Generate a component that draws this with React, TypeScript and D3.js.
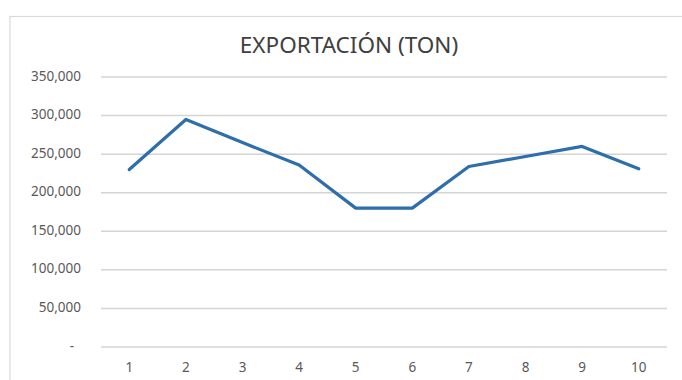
import React from "react";
import * as d3 from "d3";

const categories: string[] = ["1", "2", "3", "4", "5", "6", "7", "8", "9", "10"];
const exportTon: number[] = [230000, 295000, 265000, 236000, 180000, 180000, 234000, 247000, 260000, 231000];
const yTicks: number[] = [0, 50000, 100000, 150000, 200000, 250000, 300000, 350000];
const title = "EXPORTACIÓN (TON)";

const W = 682;
const H = 380;
const plot = { left: 101, right: 667, top: 77, bottom: 347 };
const FONT = "'Noto Sans', 'Open Sans', sans-serif";

export default function App() {
  const x = d3
    .scaleBand<string>()
    .domain(categories)
    .range([plot.left, plot.right])
    .paddingInner(0)
    .paddingOuter(0);
  const y = d3.scaleLinear().domain([0, 350000]).range([plot.bottom, plot.top]);

  const fmt = (v: number) => (v === 0 ? "-" : d3.format(",")(v));

  const line = d3
    .line<number>()
    .x((_, i) => (x(categories[i]) as number) + x.bandwidth() / 2)
    .y((d) => y(d));

  return (
    <div style={{ position: "fixed", left: 0, top: 0 }}>
      <svg width={W} height={H} style={{ display: "block", background: "#fff" }}>
        {/* chart area frame */}
        <rect x={10} y={16.5} width={700} height={400} fill="#fff" stroke="#d9d9d9" strokeWidth={1.2} />

        <text
          x={349}
          y={53}
          textAnchor="middle"
          fontFamily={FONT}
          fontSize={22.5}
          fill="#404040"
        >
          {title}
        </text>

        {yTicks.map((t) => (
          <g key={t}>
            <line
              x1={plot.left}
              x2={plot.right}
              y1={y(t)}
              y2={y(t)}
              stroke="#d4d4d4"
              strokeWidth={1.5}
            />
            <text
              x={t === 0 ? 74 : 81}
              y={y(t)}
              textAnchor="end"
              dominantBaseline="middle"
              fontFamily={FONT}
              fontSize={13.5}
              fill="#595959"
            >
              {fmt(t)}
            </text>
          </g>
        ))}

        {categories.map((c) => (
          <text
            key={c}
            x={(x(c) as number) + x.bandwidth() / 2}
            y={368}
            textAnchor="middle"
            dominantBaseline="middle"
            fontFamily={FONT}
            fontSize={13.5}
            fill="#595959"
          >
            {c}
          </text>
        ))}

        <path
          d={line(exportTon) || ""}
          fill="none"
          stroke="#2e6eab"
          strokeWidth={3.2}
          strokeLinejoin="round"
          strokeLinecap="round"
        />
      </svg>
    </div>
  );
}
